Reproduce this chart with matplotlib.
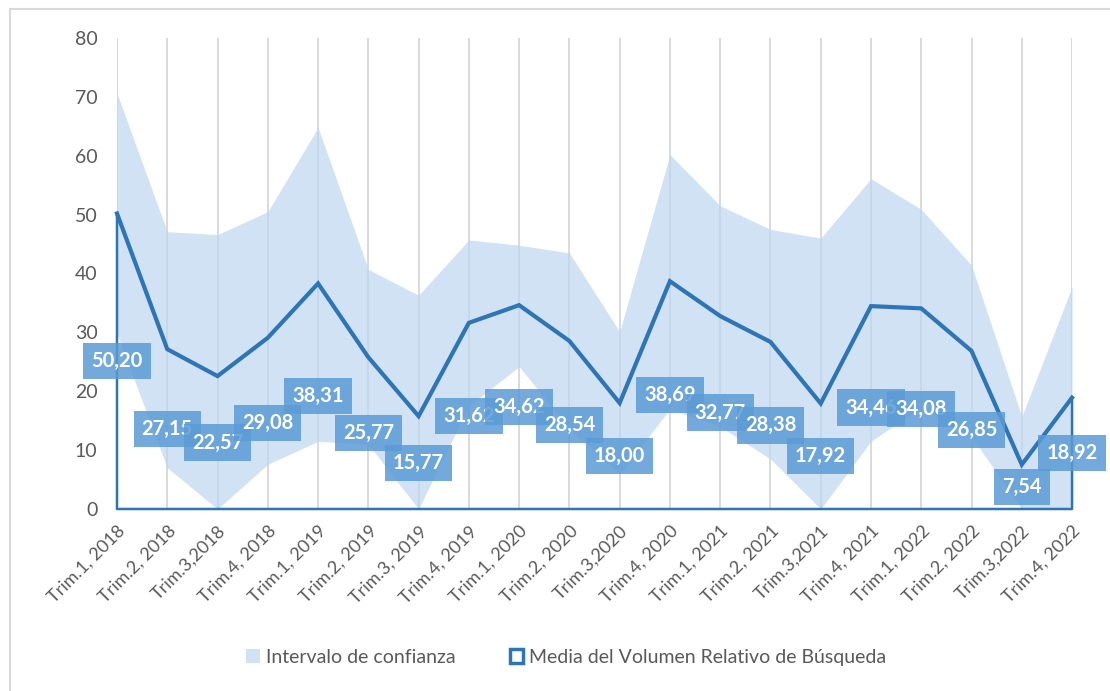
import matplotlib.pyplot as plt
import numpy as np
from matplotlib.patches import Patch, Rectangle

plt.rcParams["font.family"] = ["Lato", "DejaVu Sans"]

COR_LINHA = "#2E75B6"
COR_BANDA = "#BDD7EE"
COR_ROTULO = "#5B9BD5"
COR_TEXTO = "#595959"
COR_GRADE = "#D9D9D9"

trimestres = [
    "Trim.1, 2018", "Trim.2, 2018", "Trim.3,2018", "Trim.4, 2018",
    "Trim.1, 2019", "Trim.2, 2019", "Trim.3, 2019", "Trim.4, 2019",
    "Trim.1, 2020", "Trim.2, 2020", "Trim.3,2020", "Trim.4, 2020",
    "Trim.1, 2021", "Trim.2, 2021", "Trim.3,2021", "Trim.4, 2021",
    "Trim.1, 2022", "Trim.2, 2022", "Trim.3,2022", "Trim.4, 2022",
]
media = [50.20, 27.15, 22.57, 29.08, 38.31, 25.77, 15.77, 31.62, 34.62, 28.54,
         18.00, 38.69, 32.77, 28.38, 17.92, 34.46, 34.08, 26.85, 7.54, 18.92]
limite_superior = [70.6, 47.1, 46.6, 50.5, 64.8, 40.7, 36.3, 45.7, 44.8, 43.5,
                   30.1, 60.2, 51.5, 47.5, 46.0, 56.1, 50.9, 41.4, 15.7, 37.7]
limite_inferior = [29.8, 7.0, 0.0, 7.6, 11.5, 11.0, 0.0, 17.5, 24.2, 13.6,
                   5.9, 17.0, 14.0, 8.5, 0.0, 11.5, 17.3, 12.3, 0.0, 0.0]

x = np.arange(len(trimestres))
media = np.array(media)

fig = plt.figure(figsize=(11.10, 6.91), dpi=100)
ax = fig.add_axes([0.1054, 0.2634, 0.8604, 0.6816])

# borda da área do gráfico (estilo Excel)
fig.patches.append(Rectangle((10 / 1110, -0.05), 1.2, 1 - 9 / 691 + 0.05,
                             transform=fig.transFigure, fill=False,
                             edgecolor=COR_GRADE, linewidth=1.5))

ax.fill_between(x, limite_inferior, limite_superior, color=COR_BANDA, alpha=0.7,
                linewidth=0, zorder=2)
ax.fill_between(x, 0, media, facecolor="none", edgecolor=COR_LINHA, linewidth=1.8,
                zorder=3, clip_on=False)
ax.plot(x, media, color=COR_LINHA, linewidth=3.0, zorder=4, clip_on=False,
        solid_joinstyle="miter")

for xi, v in zip(x, media):
    ax.text(xi, v / 2, f"{v:.2f}".replace(".", ","), ha="center", va="center",
            color="white", fontsize=14.5, fontweight="bold", zorder=5,
            bbox=dict(boxstyle="square,pad=0.4", facecolor=COR_ROTULO,
                      edgecolor="none", alpha=0.85))

ax.set_xlim(0, len(trimestres) - 1)
ax.set_ylim(0, 80)
ax.set_yticks(np.arange(0, 81, 10))
ax.set_xticks(x)
ax.set_xticklabels(trimestres, rotation=45, ha="right", rotation_mode="anchor")
ax.tick_params(axis="both", length=0, colors=COR_TEXTO)
ax.tick_params(axis="y", pad=14, labelsize=14)
ax.tick_params(axis="x", pad=10, labelsize=13)
ax.grid(axis="x", color=COR_GRADE, linewidth=1.4, zorder=1)
ax.set_axisbelow(True)
for lado in ["top", "right", "left"]:
    ax.spines[lado].set_visible(False)
ax.spines["bottom"].set_color(COR_GRADE)
ax.spines["bottom"].set_linewidth(1.5)

handles = [
    Patch(facecolor=COR_BANDA, alpha=0.7, edgecolor="none", label="Intervalo de confianza"),
    Patch(facecolor="white", edgecolor=COR_LINHA, linewidth=2.5,
          label="Media del Volumen Relativo de Búsqueda"),
]
fig.legend(handles=handles, loc="center", bbox_to_anchor=(0.51, 0.049), ncol=2,
           frameon=False, fontsize=14, labelcolor=COR_TEXTO, handlelength=0.7,
           handleheight=0.7, handletextpad=0.3, columnspacing=2.8)

fig.savefig("out.png", dpi=100)
